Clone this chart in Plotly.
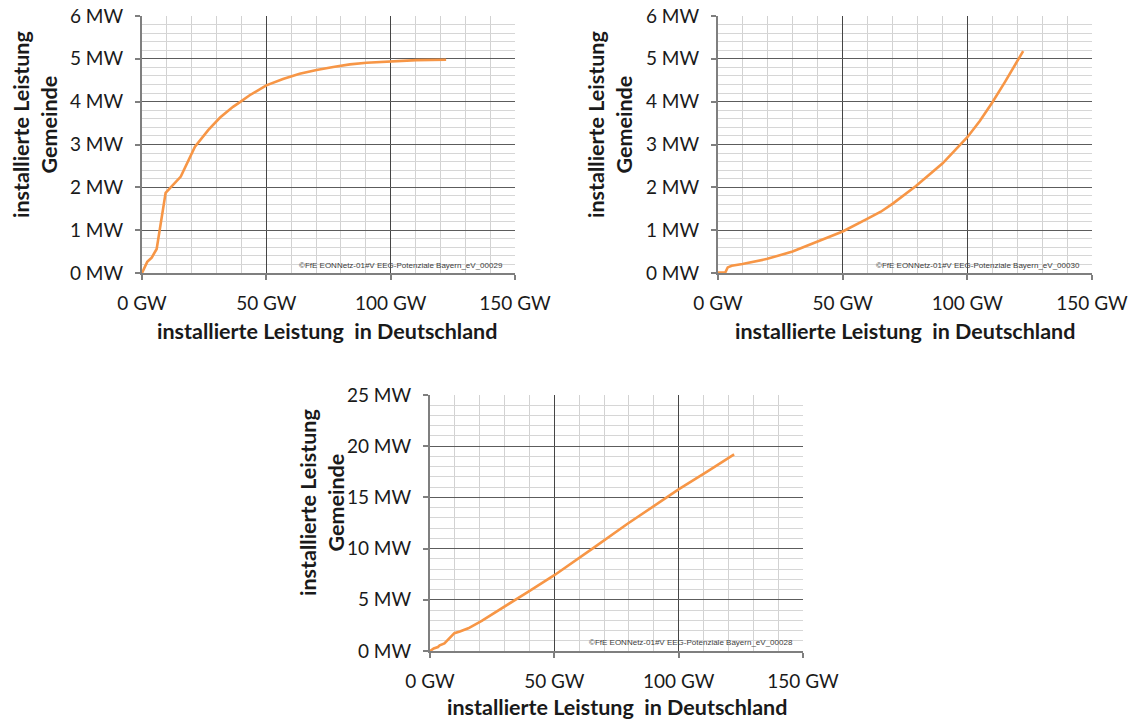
import plotly.graph_objects as go

# ---- data (GW in Germany -> MW per municipality) ----
x1_gw = [0, 2.1, 3.9, 5.9, 9.5, 11.3, 15.6, 21.3, 26.7, 31.4, 36.6, 39.4, 43.3, 50, 56.7, 63.4, 70.2, 76.9, 83.6, 90.3, 99.7, 110.5, 122.3]
y1_mw = [0, 0.26, 0.36, 0.56, 1.87, 1.99, 2.25, 2.95, 3.34, 3.63, 3.88, 3.99, 4.15, 4.38, 4.53, 4.65, 4.74, 4.81, 4.87, 4.91, 4.94, 4.97, 4.98]

x2_gw = [0, 2.9, 3.9, 5.5, 9.8, 19.8, 29.9, 39.9, 50, 60, 65.3, 70.1, 79.4, 90.1, 100, 105, 110, 115, 120.3, 122.4]
y2_mw = [0.01, 0.01, 0.13, 0.17, 0.21, 0.33, 0.50, 0.74, 0.97, 1.27, 1.43, 1.62, 2.03, 2.56, 3.17, 3.55, 3.98, 4.45, 4.97, 5.18]

x3_gw = [0, 1.5, 3.2, 3.9, 5.8, 7.5, 9.8, 12.0, 15.4, 20.8, 30.2, 39.6, 50, 58.5, 65.9, 79.3, 94.8, 100.1, 111.6, 122.3]
y3_mw = [0, 0.25, 0.39, 0.55, 0.74, 1.2, 1.74, 1.9, 2.22, 2.95, 4.35, 5.8, 7.4, 8.8, 10.1, 12.4, 14.95, 15.8, 17.55, 19.2]

x_ticks = [0, 50, 100, 150]
x_labels = ["0 GW", "50 GW", "100 GW", "150 GW"]
y_ticks_small = [0, 1, 2, 3, 4, 5, 6]
y_labels_small = ["0 MW", "1 MW", "2 MW", "3 MW", "4 MW", "5 MW", "6 MW"]
y_ticks_big = [0, 5, 10, 15, 20, 25]
y_labels_big = ["0 MW", "5 MW", "10 MW", "15 MW", "20 MW", "25 MW"]

x_title = "<b>installierte Leistung  in Deutschland</b>"
y_title = "<b>installierte Leistung<br>Gemeinde</b>"
marks = ["©FfE EONNetz-01#V EEG-Potenziale Bayern_eV_00029",
         "©FfE EONNetz-01#V EEG-Potenziale Bayern_eV_00030",
         "©FfE EONNetz-01#V EEG-Potenziale Bayern_eV_00028"]

W, H = 1128, 720
LINE = "#F79646"
FONT = "Lato"
TXT = "#1a1a1a"

def px(x):
    return x / W

def py(y):
    return 1 - y / H

# plot area boxes in pixels: (left, right, top, bottom)
boxes = [(142, 515, 16, 273), (718, 1092, 16, 273), (430, 803, 395, 651)]

fig = go.Figure()
series = [(x1_gw, y1_mw), (x2_gw, y2_mw), (x3_gw, y3_mw)]
for i, (xs, ys) in enumerate(series):
    sfx = "" if i == 0 else str(i + 1)
    fig.add_trace(go.Scatter(x=xs, y=ys, mode="lines", xaxis="x" + sfx, yaxis="y" + sfx,
                             line=dict(color=LINE, width=2.6), showlegend=False, hoverinfo="skip"))

layout = dict(width=W, height=H, margin=dict(l=0, r=0, t=0, b=0, autoexpand=False),
              paper_bgcolor="white", plot_bgcolor="white",
              font=dict(family=FONT, size=19, color=TXT))

for i, (l, r, t, b) in enumerate(boxes):
    sfx = "" if i == 0 else str(i + 1)
    big = i == 2
    xa = dict(domain=[px(l), px(r)], range=[0, 150], tickvals=x_ticks, ticktext=x_labels,
              showgrid=True, gridcolor="#454545", gridwidth=1.3,
              minor=dict(dtick=10, tick0=0, showgrid=True, gridcolor="#d2d2d2", gridwidth=1.3),
              showline=True, linecolor="#7f7f7f", linewidth=2,
              ticks="outside", ticklen=5, tickcolor="#7f7f7f", tickwidth=2,
              ticklabelstandoff=7, ticklabeloverflow="allow",
              zeroline=False, fixedrange=True, automargin=False,
              anchor="y" + sfx, tickfont=dict(family=FONT, size=19, color=TXT))
    ya = dict(domain=[py(b), py(t)],
              range=[0, 25] if big else [0, 6],
              tickvals=y_ticks_big if big else y_ticks_small,
              ticktext=y_labels_big if big else y_labels_small,
              showgrid=True, gridcolor="#5c5c5c", gridwidth=1.3,
              minor=dict(dtick=1 if big else 0.2, tick0=0, showgrid=True, gridcolor="#d6d6d6", gridwidth=1.3),
              showline=True, linecolor="#7f7f7f", linewidth=2,
              ticks="outside", ticklen=5, tickcolor="#7f7f7f", tickwidth=2,
              ticklabelstandoff=8, ticklabeloverflow="allow",
              zeroline=False, fixedrange=True, automargin=False,
              anchor="x" + sfx, tickfont=dict(family=FONT, size=19, color=TXT))
    layout["xaxis" + sfx] = xa
    layout["yaxis" + sfx] = ya

fig.update_layout(**layout)

ann = []
# x titles
for cx, cy in [(327, 331), (905, 331), (617, 707)]:
    ann.append(dict(x=px(cx), y=py(cy), xref="paper", yref="paper", text=x_title, showarrow=False,
                    xanchor="center", yanchor="middle", font=dict(family=FONT, size=21.5, color=TXT)))
# y titles
for cx, cy in [(35, 125), (610, 125), (322, 503)]:
    ann.append(dict(x=px(cx), y=py(cy), xref="paper", yref="paper", text=y_title, showarrow=False,
                    textangle=-90, xanchor="center", yanchor="middle",
                    font=dict(family=FONT, size=21.5, color=TXT)))
# watermarks
for (rx, cy), m in zip([(505, 265), (1082, 265), (795, 642)], marks):
    ann.append(dict(x=px(rx), y=py(cy), xref="paper", yref="paper", text=m, showarrow=False,
                    xanchor="right", yanchor="middle",
                    font=dict(family="Liberation Sans", size=8, color="#404040")))
fig.update_layout(annotations=ann)

fig.write_html("out.html", config={"displayModeBar": False},
               post_script="document.body.style.margin='0px';document.body.style.overflow='hidden';")
